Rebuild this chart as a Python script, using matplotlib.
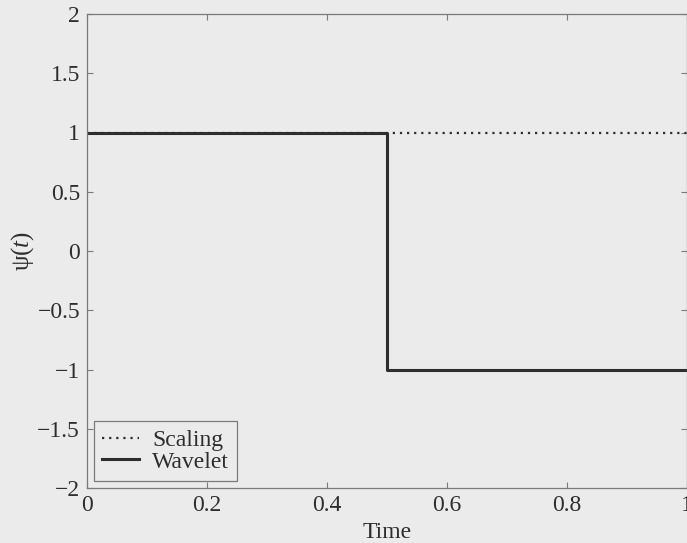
import matplotlib
matplotlib.use("Agg")
import matplotlib.pyplot as plt
from matplotlib.ticker import FuncFormatter

# Haar scaling function and wavelet on [0, 1]
t_scaling = [0.0, 1.0]
phi_values = [1.0, 1.0]
t_wavelet = [0.0, 0.5, 0.5, 1.0]
psi_values = [1.0, 1.0, -1.0, -1.0]

x_ticks = [0, 0.2, 0.4, 0.6, 0.8, 1]
y_ticks = [-2, -1.5, -1, -0.5, 0, 0.5, 1, 1.5, 2]

bg = "#ebebeb"
ink = "#2e2e2e"
spine = "#7a7a7a"

plt.rcParams["font.family"] = ["Liberation Serif", "DejaVu Serif"]
plt.rcParams["mathtext.fontset"] = "custom"
plt.rcParams["mathtext.rm"] = "Liberation Serif"
plt.rcParams["mathtext.it"] = "Liberation Serif:italic"

fig = plt.figure(figsize=(6.87, 5.43), dpi=100, facecolor=bg)
ax = fig.add_axes([87 / 687, 1 - 488 / 543, 600 / 687, 474 / 543], facecolor=bg)

ax.plot(t_scaling, phi_values, linestyle=(0, (1, 2.2)), color=ink, lw=1.6, label="Scaling")
ax.plot(t_wavelet, psi_values, linestyle="-", color=ink, lw=2.2, label="Wavelet")

ax.set_xlim(0, 1)
ax.set_ylim(-2, 2)
ax.set_xticks(x_ticks)
ax.set_yticks(y_ticks)

fmt = FuncFormatter(lambda v, p: ("%g" % v).replace("-", "\u2212"))
ax.xaxis.set_major_formatter(fmt)
ax.yaxis.set_major_formatter(fmt)

ax.tick_params(direction="in", length=4, width=0.8, color=spine,
               top=True, right=True, labelsize=17, labelcolor=ink, pad=5)
for s in ax.spines.values():
    s.set_color(spine)
    s.set_linewidth(0.9)

ax.set_xlabel("Time", fontsize=17, color=ink, labelpad=4)
ax.set_ylabel("\u03c8($t$)", fontsize=18, color=ink, labelpad=1)

leg = ax.legend(loc="lower left", fontsize=17, frameon=True, fancybox=False,
                facecolor=bg, edgecolor=spine, framealpha=1,
                handlelength=1.55, handletextpad=0.55, borderpad=0.35,
                labelspacing=0.0, borderaxespad=0.3)
for txt in leg.get_texts():
    txt.set_color(ink)
leg.get_frame().set_linewidth(0.9)

fig.savefig("out.png", dpi=100, facecolor=bg)
